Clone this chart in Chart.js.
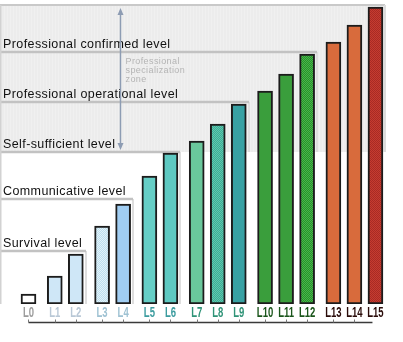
<!DOCTYPE html>
<html>
<head>
<meta charset="utf-8">
<script src="https://cdn.jsdelivr.net/npm/chart.js@4.4.1/dist/chart.umd.min.js"></script>
<style>
html, body { margin: 0; padding: 0; background: #fff; }
</style>
</head>
<body>
<canvas id="levelChart" width="403" height="342"></canvas>
<script>
// Levels, the group each one belongs to, and bar heights
var levelLabels = ['L0', 'L1', 'L2', 'L3', 'L4', 'L5', 'L6', 'L7', 'L8', 'L9', 'L10', 'L11', 'L12', 'L13', 'L14', 'L15'];
var levelGroups = [0, 1, 1, 2, 2, 3, 3, 4, 4, 4, 5, 5, 5, 6, 6, 6];
var levelHeights = [10, 28, 50, 78, 100, 128, 151, 163, 180, 200, 213, 230, 250, 262, 279, 297];

// Named bands behind the bars: where each starts and the last level it covers
var bandNames = ['Survival level', 'Communicative level', 'Self-sufficient level', 'Professional operational level', 'Professional confirmed level'];
var bandValues = [53, 105, 152, 202, 252];
var bandLastLevel = [2, 4, 6, 9, 12];
var zoneTop = 299;
var zoneNote = ['Professional', 'specialization', 'zone'];

// Tick label colour per group
var groupLabelColors = ['#9c9c9c', '#b9c8d6', '#9fc2d3', '#3c9c9f', '#2f9377', '#1b561c', '#2a0c0a'];

// bars in the same group sit closer together
function barX(i) {
	return i + levelGroups[i] * 0.25;
}

function dither(a, b) {
	var p = document.createElement('canvas');
	p.width = 2;
	p.height = 2;
	var g = p.getContext('2d');
	g.fillStyle = a;
	g.fillRect(0, 0, 2, 2);
	g.fillStyle = b;
	g.fillRect(0, 0, 1, 1);
	g.fillRect(1, 1, 1, 1);
	return g.createPattern(p, 'repeat');
}

function stripes() {
	var p = document.createElement('canvas');
	p.width = 3;
	p.height = 1;
	var g = p.getContext('2d');
	g.fillStyle = '#ececec';
	g.fillRect(0, 0, 3, 1);
	g.fillStyle = '#f0f0f0';
	g.fillRect(1, 0, 1, 1);
	return g.createPattern(p, 'repeat');
}

var barFills = [
	'#ffffff',
	'#cfe7f7', '#cfe7f7',
	dither('#bcdfee', '#e4f2f9'), '#a0cdf2',
	'#66cec6', '#5ec9c2',
	'#6ac79c', dither('#3aae96', '#62c6ae'), '#38a1a3',
	'#3a9e3c', '#3a9e3c', dither('#24952a', '#4cb24c'),
	'#d86b3c', '#d86b3c', dither('#c63c30', '#a82b24')
];

var levelBands = {
	id: 'levelBands',
	beforeDatasetsDraw: function(chart) {
		var c = chart.ctx;
		var xs = chart.scales.x;
		var ys = chart.scales.y;
		var base = ys.getPixelForValue(0);
		var top = Math.round(ys.getPixelForValue(zoneTop));
		var zoneBottom = Math.round(ys.getPixelForValue(bandValues[2]));
		var rightOf = function(level) {
			return Math.round(xs.getPixelForValue(barX(level))) + 10;
		};
		var topRight = rightOf(levelLabels.length - 1);

		c.save();

		// grey professional zone
		c.fillStyle = stripes();
		c.fillRect(0, top, topRight, zoneBottom - top);
		c.strokeStyle = '#c9c9c9';
		c.lineWidth = 2;
		c.beginPath();
		c.moveTo(0, top);
		c.lineTo(topRight, top);
		c.stroke();
		c.strokeStyle = '#dcdcdc';
		c.beginPath();
		c.moveTo(topRight, top);
		c.lineTo(topRight, zoneBottom);
		c.stroke();

		// band edges
		for (var k = 0; k < bandValues.length; k++) {
			var y = Math.round(ys.getPixelForValue(bandValues[k]));
			var r = rightOf(bandLastLevel[k]);
			c.strokeStyle = '#dedede';
			c.lineWidth = 2;
			c.beginPath();
			c.moveTo(r, y);
			c.lineTo(r, k < 3 ? base : zoneBottom);
			c.stroke();
			c.strokeStyle = '#c2c2c2';
			c.lineWidth = 2.5;
			c.beginPath();
			c.moveTo(0, y);
			c.lineTo(r, y);
			c.stroke();
		}
		c.strokeStyle = '#d2d2d2';
		c.lineWidth = 1.5;
		c.beginPath();
		c.moveTo(0.75, top);
		c.lineTo(0.75, base);
		c.stroke();

		// band names
		c.fillStyle = '#111';
		c.font = '12.5px "Liberation Sans", Arial, sans-serif';
		c.letterSpacing = '0.4px';
		c.textBaseline = 'alphabetic';
		for (k = 0; k < bandNames.length; k++) {
			c.fillText(bandNames[k], 3, Math.round(ys.getPixelForValue(bandValues[k])) - 4);
		}

		// double arrow over the specialization zone
		var ax = Math.round(xs.getPixelForValue(4.35)) + 0.5;
		var ay1 = top + 3;
		var ay2 = zoneBottom - 2;
		c.strokeStyle = '#8d9cb3';
		c.fillStyle = '#8d9cb3';
		c.lineWidth = 1.5;
		c.beginPath();
		c.moveTo(ax, ay1 + 4);
		c.lineTo(ax, ay2 - 4);
		c.stroke();
		c.beginPath();
		c.moveTo(ax, ay1);
		c.lineTo(ax - 3, ay1 + 7);
		c.lineTo(ax + 3, ay1 + 7);
		c.closePath();
		c.fill();
		c.beginPath();
		c.moveTo(ax, ay2);
		c.lineTo(ax - 3, ay2 - 7);
		c.lineTo(ax + 3, ay2 - 7);
		c.closePath();
		c.fill();

		c.fillStyle = '#b4b4b4';
		c.font = '9px "Liberation Sans", Arial, sans-serif';
		c.letterSpacing = '0.4px';
		var ny = Math.round(ys.getPixelForValue(bandValues[4])) + 12;
		for (k = 0; k < zoneNote.length; k++) {
			c.fillText(zoneNote[k], ax + 5, ny + k * 9);
		}
		c.restore();
	},
	afterDraw: function(chart) {
		var c = chart.ctx;
		var xs = chart.scales.x;
		var base = chart.chartArea.bottom;

		// level names under the bars, squeezed to a narrow bold face
		c.save();
		c.font = 'bold 14px "Liberation Sans", Arial, sans-serif';
		c.textAlign = 'center';
		c.textBaseline = 'middle';
		for (var i = 0; i < levelLabels.length; i++) {
			var lx = xs.getPixelForValue(barX(i));
			c.save();
			c.translate(lx, base + 9.5);
			c.scale(0.68, 1);
			c.fillStyle = groupLabelColors[levelGroups[i]];
			c.fillText(levelLabels[i], 0, 0);
			c.restore();
		}
		c.restore();

		// bracket line under the level names
		var y = base + 18.5;
		var x1 = xs.getPixelForValue(barX(0));
		var x2 = xs.getPixelForValue(barX(levelLabels.length - 1)) - 3;
		c.save();
		c.strokeStyle = '#3a3a3a';
		c.lineWidth = 1.5;
		c.beginPath();
		c.moveTo(x1, y);
		c.lineTo(x2, y);
		c.stroke();
		c.lineWidth = 1;
		c.strokeStyle = '#777';
		for (i = 0; i < levelLabels.length; i++) {
			var x = Math.round(xs.getPixelForValue(barX(i))) + 0.5;
			if (x > x2) break;
			c.beginPath();
			c.moveTo(x, y);
			c.lineTo(x, y - 3);
			c.stroke();
		}
		c.restore();
	}
};

var ctx = document.getElementById('levelChart');
var levelChart = new Chart(ctx, {
	type: 'bar',
	data: {
		labels: levelLabels,
		datasets: [
			{
				data: levelHeights.map(function(h, i) {
					return { x: barX(i), y: h };
				}),
				backgroundColor: barFills,
				borderColor: '#1c1c1c',
				borderWidth: 2,
				borderSkipped: false,
				barThickness: 15
			}
		]
	},
	options: {
		responsive: false,
		animation: false,
		devicePixelRatio: 1,
		layout: {
			padding: { top: 4, bottom: 38, left: 0, right: 0 }
		},
		plugins: {
			legend: { display: false },
			tooltip: { enabled: false }
		},
		scales: {
			x: {
				type: 'linear',
				display: false,
				offset: false,
				min: -1.355,
				max: 17.81
			},
			y: {
				display: false,
				min: 0,
				max: 300
			}
		}
	},
	plugins: [levelBands]
});
</script>
</body>
</html>
